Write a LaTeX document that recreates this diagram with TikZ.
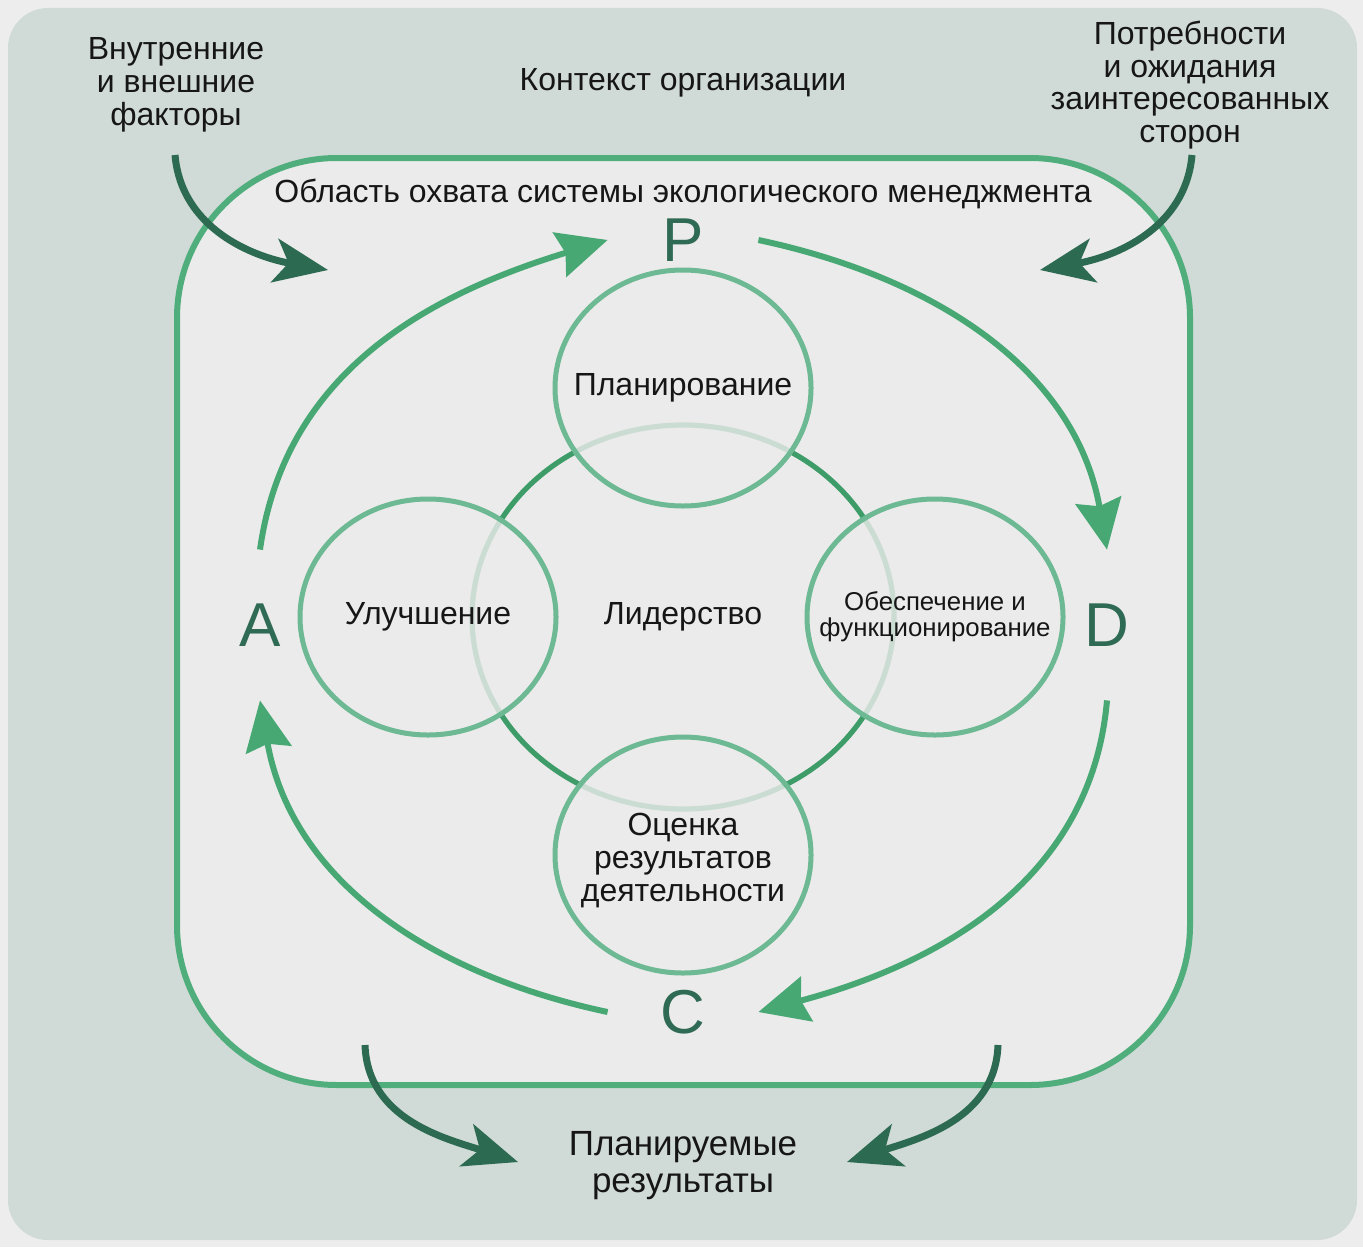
\documentclass[tikz,border=0pt]{standalone}
\usepackage{fontspec}
\setmainfont{Liberation Sans}
\usepackage{tikz}
\usetikzlibrary{shapes.geometric, arrows.meta, positioning}

\definecolor{pagebg}{HTML}{EDEDED}
\definecolor{framebg}{HTML}{D0DAD6}
\definecolor{scopebg}{HTML}{EBEBEB}
\definecolor{scopeline}{HTML}{4FAE7C}
\definecolor{cycleline}{HTML}{48A874}
\definecolor{ringline}{HTML}{6CB993}
\definecolor{coreline}{HTML}{3E9C69}
\definecolor{darkarrow}{HTML}{2C6A52}
\definecolor{lettercol}{HTML}{2F6A55}
\definecolor{txt}{HTML}{161616}

\begin{document}
\begin{tikzpicture}[x=0.5pt,y=0.5pt]
      \tikzset{
        txtnode/.style={text=txt, font=\fontsize{16}{16.4}\selectfont, align=center, inner sep=0pt},
        letter/.style={circle, minimum size=75pt, inner sep=0pt, text=lettercol,
                       font=\fontsize{31}{31}\selectfont},
        ring/.style={ellipse, draw=ringline, line width=2.5pt, fill=scopebg, fill opacity=0.82,
                     minimum width=128pt, minimum height=118pt, inner sep=0pt},
        core/.style={ellipse, draw=coreline, line width=2.6pt, minimum width=211pt,
                     minimum height=192pt, text=txt, font=\fontsize{16}{16.4}\selectfont},
        pdca/.style={draw=cycleline, line width=3pt, -{Stealth[length=25pt,width=23pt,inset=3pt]}},
        influence/.style={draw=darkarrow, line width=3.5pt, -{Stealth[length=27pt,width=22pt,inset=7pt]}}
      }

      % frame and scope
      \fill[pagebg] (0,0) rectangle (1363,-1247);
      \fill[framebg, rounded corners=20pt] (8,-8) rectangle (1357,-1240);
      \draw[scopeline, fill=scopebg, line width=3pt, rounded corners=80pt] (177,-158) rectangle (1190,-1085);

      \node[txtnode] (context) at (683,-83) {Контекст организации};
      \node[txtnode] (scope) at (683,-194) {Область охвата системы экологического менеджмента};
      \node[txtnode] (factors) at (176,-85) {Внутренние\\и внешние\\факторы};
      \node[txtnode] (needs) at (1190,-85) {Потребности\\и ожидания\\заинтересованных\\сторон};
      \node[txtnode, font=\fontsize{17.5}{18.5}\selectfont] (results) at (683,-1166) {Планируемые\\результаты};

      % circles
      \node[core] (lead) at (683,-617) {Лидерство};
      \node[ring] (plan) at (683,-388) {};
      \node[ring] (improve) at (428,-617) {};
      \node[ring] (operate) at (935,-617) {};
      \node[ring] (evaluate) at (683,-855) {};
      \node[txtnode] (plan-t) at (plan) {Планирование};
      \node[txtnode] (improve-t) at (improve) {Улучшение};
      \node[txtnode, font=\fontsize{12.9}{13}\selectfont] (operate-t) at (operate) {Обеспечение и\\функционирование};
      \node[txtnode, font=\fontsize{16}{16.5}\selectfont] (evaluate-t) at ([yshift=-3pt]evaluate) {Оценка\\результатов\\деятельности};

      % PDCA
      \node[letter] (P) at (683,-240) {P};
      \node[letter] (D) at (1107,-625) {D};
      \node[letter] (C) at (683,-1012) {C};
      \node[letter] (A) at (260,-625) {A};

      \draw[pdca] (A.north) to[out=82, in=197] (P.west);
      \draw[pdca] (P.east) to[out=-12, in=100] (D.north);
      \draw[pdca] (D.south) to[out=-95, in=15] (C.east);
      \draw[pdca] (C.west) to[out=168, in=-80] (A.south);

      % inputs and outputs
      \coordinate (factors-in) at (175,-155);
      \coordinate (factors-tip) at (328,-270);
      \coordinate (needs-in) at (1192,-155);
      \coordinate (needs-tip) at (1040,-270);
      \coordinate (results-l) at (365,-1045);
      \coordinate (results-ltip) at (518,-1162);
      \coordinate (results-r) at (998,-1045);
      \coordinate (results-rtip) at (847,-1162);

      \draw[influence] (factors-in) to[out=-85, in=170] (factors-tip);
      \draw[influence] (needs-in) to[out=-95, in=10] (needs-tip);
      \draw[influence] (results-l) to[out=-88, in=162] (results-ltip);
      \draw[influence] (results-r) to[out=-92, in=18] (results-rtip);

    \end{tikzpicture}
\end{document}
